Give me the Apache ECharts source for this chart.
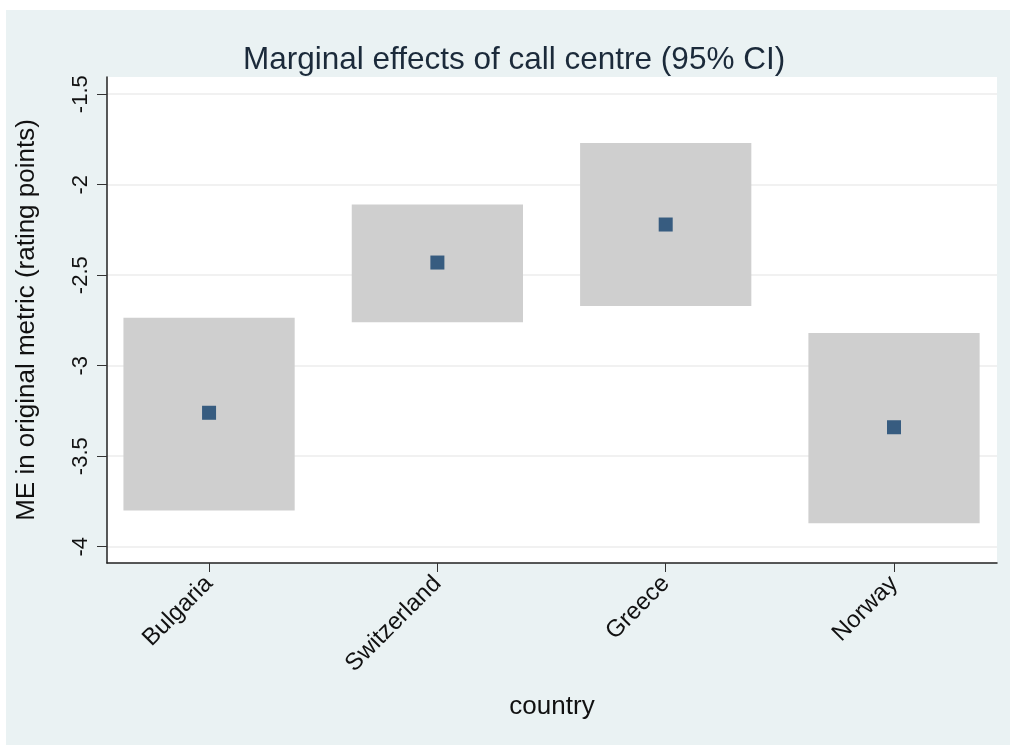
<!DOCTYPE html>
<html>
<head>
<meta charset="utf-8">
<style>
  html, body { margin: 0; padding: 0; background: #ffffff; }
  #chart { position: absolute; left: 6px; top: 10px; width: 1004px; height: 735px; }
</style>
<script src="https://cdn.jsdelivr.net/npm/echarts@6/dist/echarts.min.js"></script>
</head>
<body>
<div id="chart"></div>
<script>
// Countries shown along the horizontal axis
const countries = ['Bulgaria', 'Switzerland', 'Greece', 'Norway'];
// Marginal effect estimates and 95% confidence bounds
const estimates = [-3.26, -2.43, -2.22, -3.34];
const lowerCI = [-3.80, -2.76, -2.67, -3.87];
const upperCI = [-2.735, -2.11, -1.77, -2.82];
// Tick values on the vertical axis
const yTicks = [-4, -3.5, -3, -2.5, -2, -1.5];
const xTicks = [1, 2, 3, 4];

const FONT = '"Liberation Sans", Arial, Helvetica, sans-serif';
const BOX_HALF = 0.375;

const ciData = countries.map((c, i) => [i + 1, lowerCI[i], upperCI[i]]);
const pointData = countries.map((c, i) => [i + 1, estimates[i]]);

const chart = echarts.init(document.getElementById('chart'));
chart.setOption({
  backgroundColor: '#eaf2f3',
  animation: false,
  title: {
    text: 'Marginal effects of call centre (95% CI)',
    left: 232,
    top: 29,
    textStyle: { fontFamily: FONT, fontSize: 31.5, fontWeight: 'normal', color: '#1b2a3a' }
  },
  grid: {
    left: 101, right: 13, top: 67, bottom: 182,
    outerBoundsMode: 'none',
    containLabel: false,
    show: true, backgroundColor: '#ffffff', borderWidth: 0
  },
  xAxis: {
    type: 'value',
    min: 0.553, max: 4.451,
    name: 'country',
    nameLocation: 'middle',
    nameGap: 131,
    nameTextStyle: { fontFamily: FONT, fontSize: 26, color: '#111' },
    axisLine: { show: true, onZero: false, lineStyle: { color: '#222', width: 1.5 } },
    axisTick: { show: true, inside: false, length: 9, customValues: xTicks, lineStyle: { color: '#333' } },
    axisLabel: {
      customValues: xTicks,
      rotate: 45, margin: 17,
      fontFamily: FONT, fontSize: 24, color: '#111',
      formatter: v => countries[Math.round(v) - 1] || ''
    },
    splitLine: { show: false }
  },
  yAxis: {
    type: 'value',
    min: -4.09, max: -1.405,
    name: 'ME in original metric (rating points)',
    nameLocation: 'middle',
    nameGap: 67,
    nameTextStyle: { fontFamily: FONT, fontSize: 26, color: '#111' },
    axisLine: { show: true, onZero: false, lineStyle: { color: '#222', width: 1.5 } },
    axisTick: { show: true, inside: false, length: 10, customValues: yTicks, lineStyle: { color: '#333' } },
    axisLabel: {
      customValues: yTicks,
      rotate: 90, margin: 15,
      fontFamily: FONT, fontSize: 22, color: '#111',
      formatter: v => String(v)
    },
    splitLine: { show: true, lineStyle: { color: '#ececec', width: 1.5 } }
  },
  series: [
    {
      type: 'custom',
      name: 'CI',
      data: ciData,
      z: 2,
      renderItem: (params, api) => {
        const x = api.value(0);
        const p1 = api.coord([x - BOX_HALF, api.value(2)]);
        const p2 = api.coord([x + BOX_HALF, api.value(1)]);
        return {
          type: 'rect',
          shape: { x: p1[0], y: p1[1], width: p2[0] - p1[0], height: p2[1] - p1[1] },
          style: { fill: '#cfcfcf' }
        };
      }
    },
    {
      type: 'scatter',
      name: 'ME',
      data: pointData,
      symbol: 'rect',
      symbolSize: 14,
      z: 3,
      itemStyle: { color: '#103e6c' }
    }
  ]
});
</script>
</body>
</html>
